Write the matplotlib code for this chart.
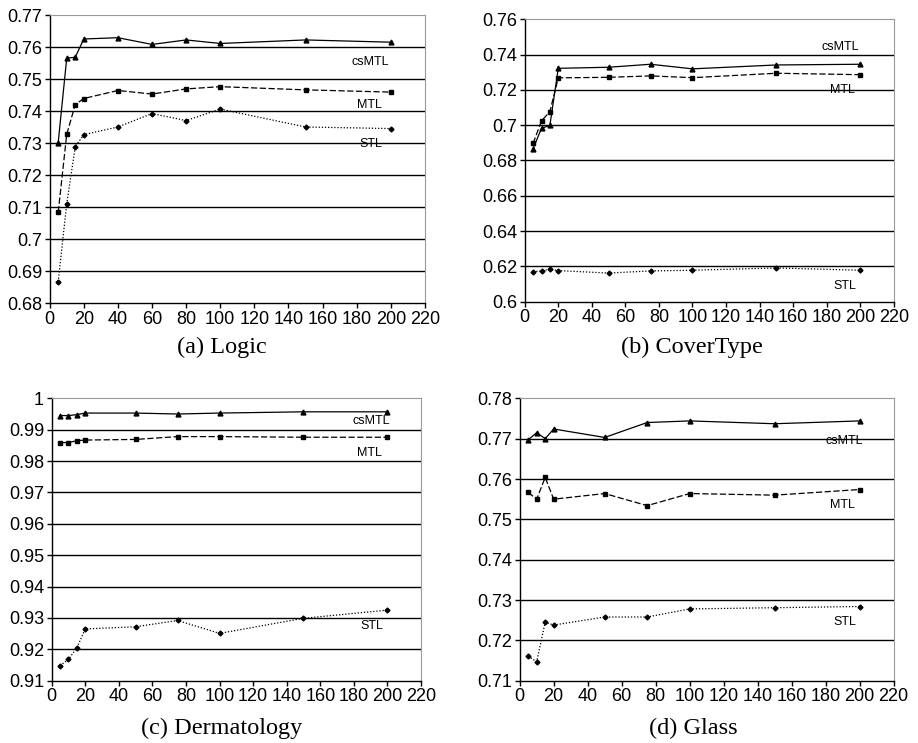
import numpy as np
import matplotlib
matplotlib.use('Agg')
import matplotlib.pyplot as plt

plt.rcParams['font.family'] = ['Liberation Sans', 'DejaVu Sans']

# x values (number of training examples)
x_logic = [5, 10, 15, 20, 40, 60, 80, 100, 150, 200]
x_other = [5, 10, 15, 20, 50, 75, 100, 150, 200]

# (a) Logic
logic_csmtl = [0.7302, 0.7566, 0.7569, 0.7626, 0.7630, 0.7609, 0.7623, 0.7612, 0.7623, 0.7616]
logic_mtl = [0.7084, 0.7328, 0.7421, 0.7440, 0.7465, 0.7454, 0.7470, 0.7477, 0.7467, 0.7460]
logic_stl = [0.6867, 0.7111, 0.7289, 0.7327, 0.7351, 0.7393, 0.7371, 0.7407, 0.7351, 0.7346]

# (b) CoverType
cover_csmtl = [0.6867, 0.6982, 0.6999, 0.7322, 0.7328, 0.7345, 0.7319, 0.7341, 0.7345]
cover_mtl = [0.6897, 0.7024, 0.7077, 0.7268, 0.7271, 0.7279, 0.7269, 0.7294, 0.7286]
cover_stl = [0.6170, 0.6174, 0.6183, 0.6176, 0.6162, 0.6174, 0.6178, 0.6191, 0.6178]

# (c) Dermatology
derm_csmtl = [0.9945, 0.9945, 0.9948, 0.9953, 0.9953, 0.9950, 0.9953, 0.9957, 0.9957]
derm_mtl = [0.9859, 0.9859, 0.9865, 0.9867, 0.9869, 0.9878, 0.9878, 0.9876, 0.9876]
derm_stl = [0.9148, 0.9168, 0.9205, 0.9265, 0.9272, 0.9292, 0.9251, 0.9299, 0.9325]

# (d) Glass
glass_csmtl = [0.7697, 0.7715, 0.7700, 0.7724, 0.7703, 0.7740, 0.7744, 0.7737, 0.7744]
glass_mtl = [0.7567, 0.7550, 0.7604, 0.7550, 0.7564, 0.7534, 0.7564, 0.7560, 0.7574]
glass_stl = [0.7161, 0.7147, 0.7245, 0.7238, 0.7258, 0.7258, 0.7278, 0.7281, 0.7284]

panels = [
    dict(x=x_logic, ys=(logic_csmtl, logic_mtl, logic_stl), ylim=(0.68, 0.77), step=0.01,
         labels=[(188, 0.7553), (187.5, 0.7421), (188.5, 0.7298)],
         rect=[0.0541, 0.5918, 0.4088, 0.3876], caption='(a) Logic', cap=(222, 347)),
    dict(x=x_other, ys=(cover_csmtl, cover_mtl, cover_stl), ylim=(0.60, 0.76), step=0.02,
         labels=[(188, 0.7441), (189.5, 0.7200), (191, 0.6089)],
         rect=[0.5716, 0.5940, 0.4020, 0.3801], caption='(b) CoverType', cap=(692, 347)),
    dict(x=x_other, ys=(derm_csmtl, derm_mtl, derm_stl), ylim=(0.91, 1.0), step=0.01,
         labels=[(190.5, 0.9929), (189, 0.9827), (191, 0.9274)],
         rect=[0.0563, 0.0838, 0.4023, 0.3801], caption='(c) Dermatology', cap=(222, 728)),
    dict(x=x_other, ys=(glass_csmtl, glass_mtl, glass_stl), ylim=(0.71, 0.78), step=0.01,
         labels=[(191, 0.7693), (190, 0.7536), (191, 0.7245)],
         rect=[0.5661, 0.0838, 0.4074, 0.3801], caption='(d) Glass', cap=(693, 728)),
]

names = ['csMTL', 'MTL', 'STL']
styles = [dict(ls='-', marker='^', ms=3.5), dict(ls=(0, (5, 2)), marker='s', ms=3.5),
          dict(ls=(0, (1, 1.5)), marker='D', ms=2.5)]


def tick_text(v):
    s = ('%.2f' % v).rstrip('0')
    if s.endswith('.'):
        s = s[:-1]
    return s


fig = plt.figure(figsize=(9.18, 7.43), dpi=100)
W, H = 918, 743

for p in panels:
    ax = fig.add_axes(p['rect'])
    for y, st in zip(p['ys'], styles):
        ax.plot(p['x'], y, color='black', lw=0.9, mfc='black', mec='black', **st, zorder=3)
    lo, hi = p['ylim']
    ticks = np.round(np.arange(lo, hi + p['step'] / 2, p['step']), 4)
    ax.set_ylim(lo, hi)
    ax.set_yticks(ticks)
    ax.set_yticklabels([tick_text(t) for t in ticks])
    ax.set_xlim(0, 220)
    ax.set_xticks(range(0, 221, 20))
    for t in ticks[1:-1]:
        ax.axhline(t, color='black', lw=1.0, zorder=1)
    ax.spines['top'].set_color('#999999')
    ax.spines['right'].set_color('#999999')
    ax.spines['left'].set_linewidth(1.0)
    ax.spines['bottom'].set_linewidth(1.0)
    ax.tick_params(labelsize=13, length=3.5, width=1.0, direction='out', pad=2)
    for name, (lx, ly) in zip(names, p['labels']):
        ax.text(lx, ly, name, fontsize=9, ha='center', va='center')
    cx, cy = p['cap']
    fig.text(cx / W, 1 - cy / H, p['caption'], ha='center', va='center',
             fontsize=17.5, family='Liberation Serif')

fig.savefig('out.png', dpi=100)
